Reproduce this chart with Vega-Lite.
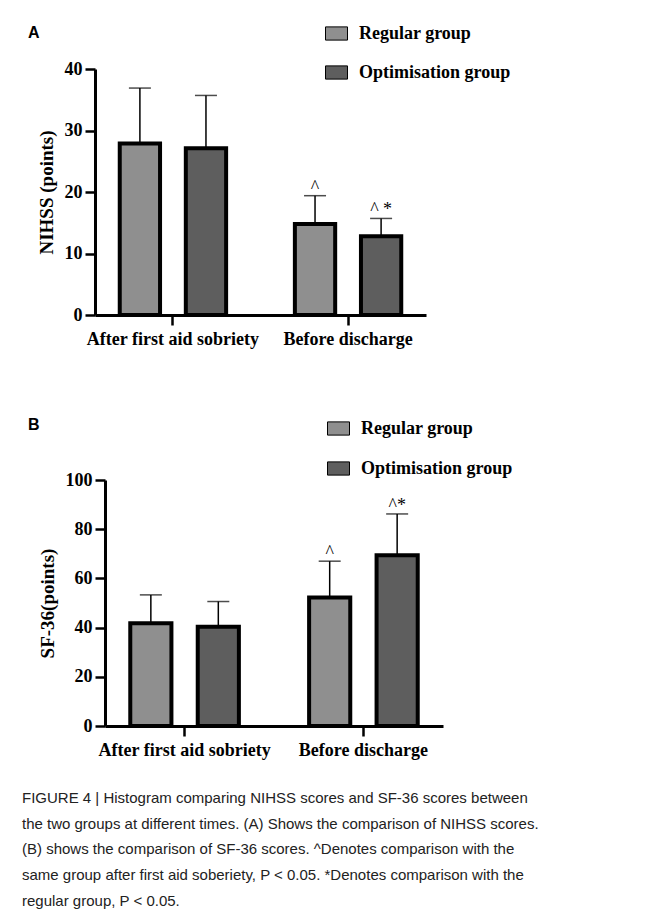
{
  "$schema": "https://vega.github.io/schema/vega-lite/v6.json",
  "background": "white",
  "padding": {"left": 22, "top": 22, "right": 5, "bottom": 5},
  "columns": 1,
  "spacing": 69,
  "title": {
    "text": [
      "FIGURE 4 | Histogram comparing NIHSS scores and SF-36 scores between",
      "the two groups at different times. (A) Shows the comparison of NIHSS scores.",
      "(B) shows the comparison of SF-36 scores. ^Denotes comparison with the",
      "same group after first aid soberiety, P < 0.05. *Denotes comparison with the",
      "regular group, P < 0.05."
    ],
    "orient": "bottom",
    "anchor": "start",
    "frame": "bounds",
    "font": "Liberation Sans",
    "fontSize": 15,
    "fontWeight": "normal",
    "color": "#222222",
    "lineHeight": 25.7,
    "baseline": "top",
    "offset": 32,
    "dx": -6
  },
  "resolve": {
    "scale": {"fill": "independent", "x": "independent", "y": "independent", "xOffset": "independent"},
    "legend": {"fill": "independent"}
  },
  "concat": [
    {
      "width": 331,
      "height": 246,
      "title": {"text": "A", "anchor": "start", "frame": "group", "dx": -67, "offset": -19, "font": "Liberation Sans", "fontSize": 16, "fontWeight": "bold", "color": "black"},
      "data": {"values": [
        {"time": "After first aid sobriety", "group": "Regular group", "mean": 27.9, "upper": 36.9, "sig": ""},
        {"time": "After first aid sobriety", "group": "Optimisation group", "mean": 27.1, "upper": 35.7, "sig": ""},
        {"time": "Before discharge", "group": "Regular group", "mean": 14.8, "upper": 19.4, "sig": "^"},
        {"time": "Before discharge", "group": "Optimisation group", "mean": 12.8, "upper": 15.7, "sig": "^ *"}
      ]},
      "encoding": {
        "x": {"field": "time", "type": "nominal", "sort": null, "scale": {"paddingInner": 0.37, "paddingOuter": 0.13}, "axis": {"title": null}},
        "xOffset": {"field": "group", "type": "nominal", "sort": ["Regular group", "Optimisation group"], "scale": {"paddingInner": 0.39, "paddingOuter": 0.03}}
      },
      "layer": [
        {
          "mark": {"type": "bar", "stroke": "black", "strokeWidth": 4},
          "encoding": {
            "y": {"field": "mean", "type": "quantitative", "scale": {"domain": [0, 40]}, "axis": {"title": "NIHSS (points)", "values": [0, 10, 20, 30, 40]}},
            "fill": {"field": "group", "type": "nominal", "sort": ["Regular group", "Optimisation group"],
              "scale": {"domain": ["Regular group", "Optimisation group"], "range": ["#8f8f8f", "#5e5e5e"]},
              "legend": {"orient": "none", "legendX": 230, "legendY": -47, "title": null, "rowPadding": 18,
                "encode": {"symbols": {"update": {"fill": {"value": "#1a1a1a"}, "stroke": {"value": "#000000"}}}}}}
          }
        },
        {
          "mark": {"type": "rule", "color": "black", "strokeWidth": 1.5},
          "encoding": {"y": {"field": "mean", "type": "quantitative"}, "y2": {"field": "upper"}}
        },
        {
          "mark": {"type": "tick", "orient": "horizontal", "color": "black", "size": 22, "thickness": 1.5},
          "encoding": {"y": {"field": "upper", "type": "quantitative"}}
        },
        {
          "mark": {"type": "text", "font": "Liberation Serif", "fontSize": 18, "color": "black", "baseline": "alphabetic", "align": "center", "dy": -3},
          "encoding": {"y": {"field": "upper", "type": "quantitative"}, "text": {"field": "sig"}}
        }
      ]
    },
    {
      "width": 348,
      "height": 246,
      "title": {"text": "B", "anchor": "start", "frame": "group", "dx": -67, "offset": -16, "font": "Liberation Sans", "fontSize": 16, "fontWeight": "bold", "color": "black"},
      "data": {"values": [
        {"time": "After first aid sobriety", "group": "Regular group", "mean": 41.8, "upper": 53.3, "sig": ""},
        {"time": "After first aid sobriety", "group": "Optimisation group", "mean": 40.3, "upper": 50.6, "sig": ""},
        {"time": "Before discharge", "group": "Regular group", "mean": 52.2, "upper": 67.0, "sig": "^"},
        {"time": "Before discharge", "group": "Optimisation group", "mean": 69.4, "upper": 86.2, "sig": "^*"}
      ]},
      "encoding": {
        "x": {"field": "time", "type": "nominal", "sort": null, "scale": {"range": [10, 348], "paddingInner": 0.37, "paddingOuter": 0.13}, "axis": {"title": null}},
        "xOffset": {"field": "group", "type": "nominal", "sort": ["Regular group", "Optimisation group"], "scale": {"paddingInner": 0.39, "paddingOuter": 0.03}}
      },
      "layer": [
        {
          "mark": {"type": "bar", "stroke": "black", "strokeWidth": 4},
          "encoding": {
            "y": {"field": "mean", "type": "quantitative", "scale": {"domain": [0, 100]}, "axis": {"title": "SF-36(points)", "offset": -10, "values": [0, 20, 40, 60, 80, 100]}},
            "fill": {"field": "group", "type": "nominal", "sort": ["Regular group", "Optimisation group"],
              "scale": {"domain": ["Regular group", "Optimisation group"], "range": ["#8f8f8f", "#5e5e5e"]},
              "legend": {"orient": "none", "legendX": 232, "legendY": -63, "title": null, "rowPadding": 19,
                "encode": {"symbols": {"update": {"fill": {"value": "#1a1a1a"}, "stroke": {"value": "#000000"}}}}}}
          }
        },
        {
          "mark": {"type": "rule", "color": "black", "strokeWidth": 1.5},
          "encoding": {"y": {"field": "mean", "type": "quantitative"}, "y2": {"field": "upper"}}
        },
        {
          "mark": {"type": "tick", "orient": "horizontal", "color": "black", "size": 22, "thickness": 1.5},
          "encoding": {"y": {"field": "upper", "type": "quantitative"}}
        },
        {
          "mark": {"type": "text", "font": "Liberation Serif", "fontSize": 18, "color": "black", "baseline": "alphabetic", "align": "center", "dy": -3},
          "encoding": {"y": {"field": "upper", "type": "quantitative"}, "text": {"field": "sig"}}
        }
      ]
    }
  ],
  "config": {
    "view": {"stroke": null},
    "axis": {
      "grid": false,
      "domainColor": "black", "domainWidth": 3,
      "tickColor": "black", "tickWidth": 2.5, "tickSize": 10,
      "labelFont": "Liberation Serif", "labelFontSize": 18, "labelFontWeight": "bold", "labelColor": "black", "labelPadding": 3,
      "titleFont": "Liberation Serif", "titleFontSize": 19, "titleFontWeight": "bold", "titleColor": "black"
    },
    "axisX": {"labelAngle": 0, "labelPadding": 5},
    "axisY": {"titlePadding": 8},
    "legend": {
      "labelFont": "Liberation Serif", "labelFontSize": 18, "labelFontWeight": "bold", "labelColor": "black",
      "symbolType": "M-1,-0.6H1V0.6H-1Z", "symbolSize": 484, "symbolStrokeWidth": 1, "labelOffset": 11, "padding": 0
    }
  }
}
